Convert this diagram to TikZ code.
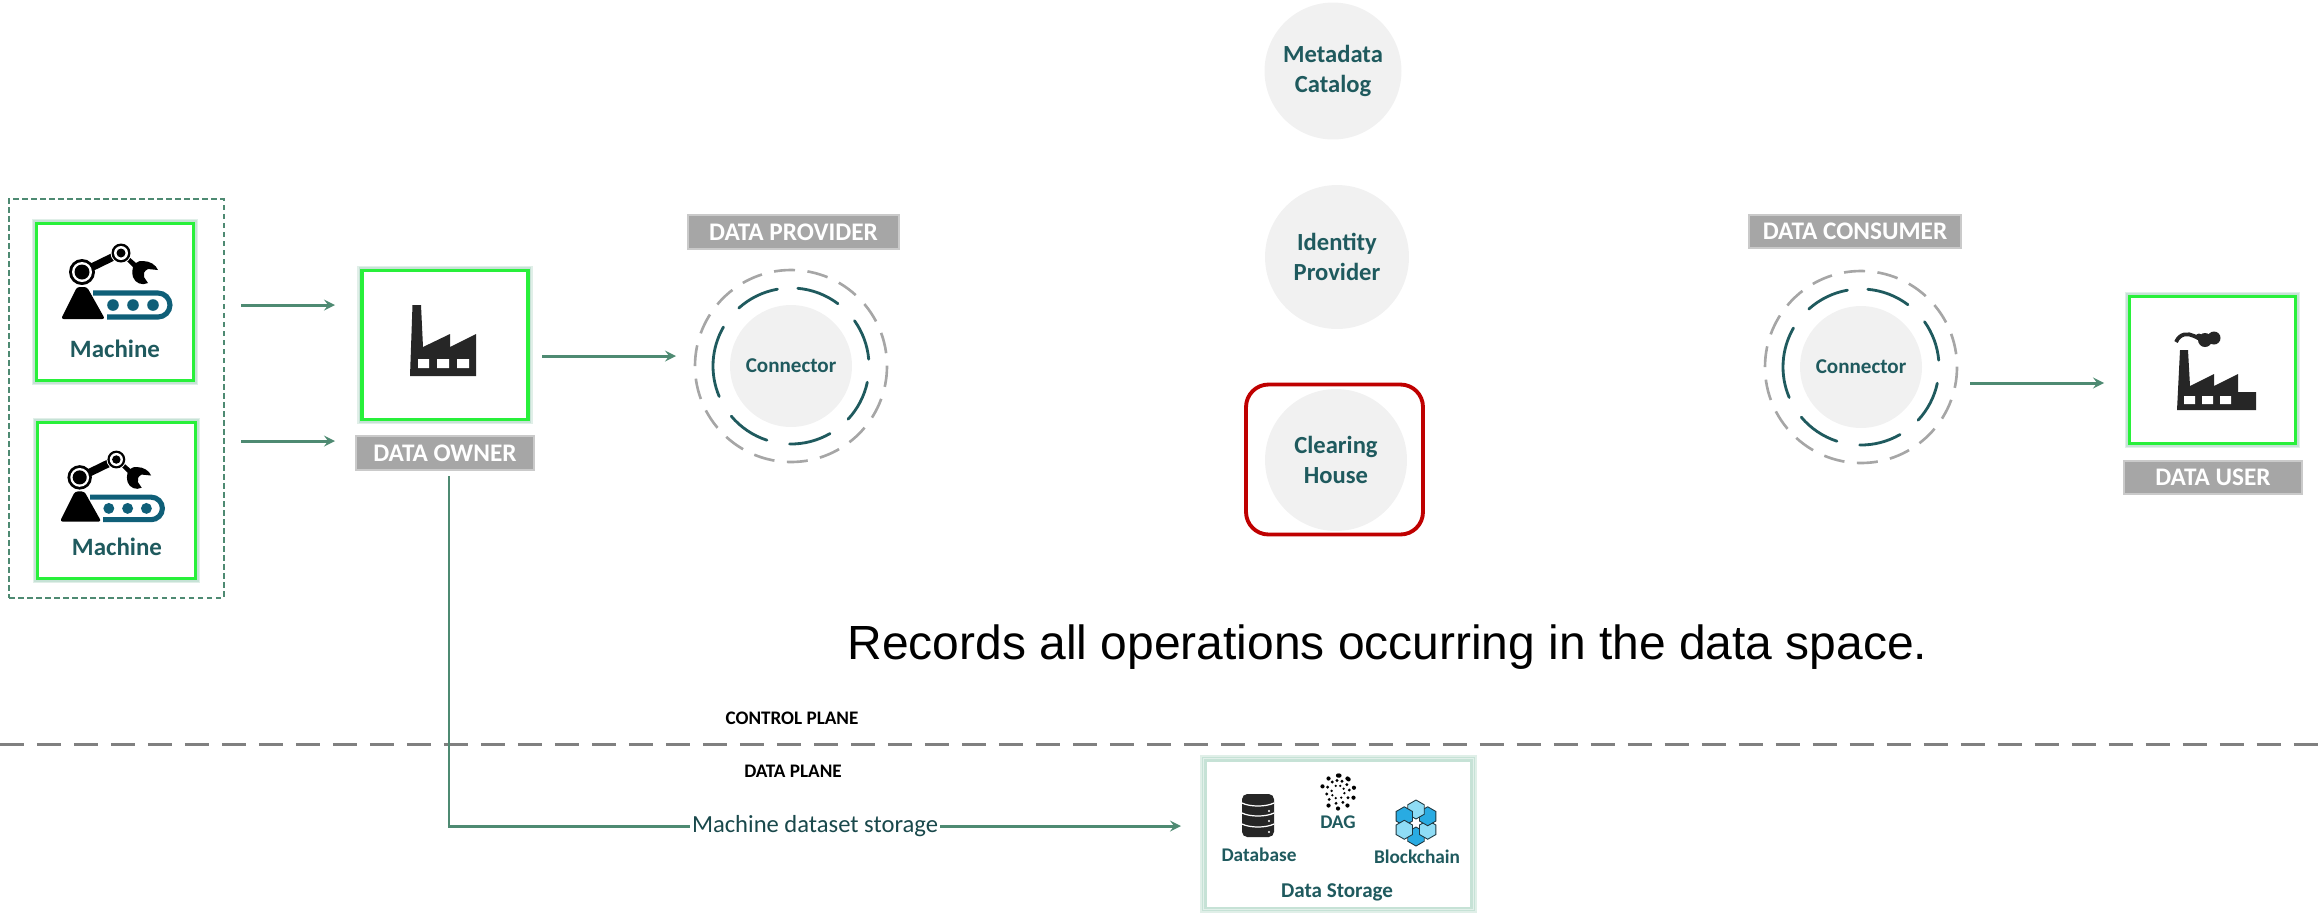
\documentclass[tikz,border=0pt]{standalone}
\usepackage{fontspec}
\setmainfont{Carlito}
\newfontfamily\recordfont{Liberation Sans}
\usetikzlibrary{calc,shapes,positioning}
\usetikzlibrary{arrows}
\definecolor{tealtext}{HTML}{1F5A5E}
\definecolor{flowgreen}{HTML}{4E8A72}
\definecolor{boxgreen}{HTML}{28F03A}
\definecolor{glowgreen}{HTML}{C6E2D6}
\definecolor{tagline}{HTML}{A6A6A6}
\definecolor{softgrey}{HTML}{F1F1F1}
\definecolor{iconblack}{HTML}{262626}
\definecolor{beltblue}{HTML}{0F5F78}
\newcommand{\pxfont}[1]{\fontsize{#1}{17}\selectfont}
\newcommand{\machineicon}[3]{
  \begin{scope}[shift={(#1,#2)},scale=#3]
    \fill[black,rounded corners=1.5pt] (17,42) -- (27,42) -- (45,74) -- (1,74) -- cycle;
    \draw[beltblue,line width=2.9pt] (33,48) -- (98,48) arc (-90:90:12) -- (47,72);
    \fill[beltblue] (53,60) circle (5.8) (73,60) circle (5.8) (93,60) circle (5.8);
    \draw[black,line width=4.4pt] (22,27) -- (61,8);
    \fill[black] (83,16) .. controls (90,16) and (96,20) .. (98,25) -- (88,24) .. controls (84,26) and (83,29) .. (84,32) -- (88,38) .. controls (82,41) and (75,38) .. (73,32) .. controls (72,28) and (72,25) .. (73,22) -- (65,14) -- (68,11) -- (76,18) .. controls (78,16) and (80,16) .. (83,16) -- cycle;
    \fill[black] (22,27) circle (13);
    \fill[white] (22,27) circle (10);
    \fill[black] (22,27) circle (7.5);
    \fill[white] (61,8) circle (10.5);
    \fill[black] (61,8) circle (9.5);
    \fill[white] (61,8) circle (7);
    \fill[black] (61,8) circle (4.5);
  \end{scope}
}
\newcommand{\ownerfactory}[2]{
  \begin{scope}[shift={(#1,#2)}]
    \fill[iconblack] (0,71) -- (2.5,0) -- (11,0) -- (13,42) -- (40,29) -- (40,42) -- (66,29) -- (66,71) -- cycle;
    \fill[white] (8,54) rectangle (19,63) (27,54) rectangle (39,63) (47,54) rectangle (59,63);
  \end{scope}
}
\newcommand{\userfactory}[2]{
  \begin{scope}[shift={(#1,#2)}]
    \fill[iconblack] (0,78) -- (3,18) -- (11,18) -- (13,54) -- (37,42) -- (37,54) -- (61,42) -- (61,60) -- (79,60) -- (79,78) -- cycle;
    \fill[white] (7,64) rectangle (18,72) (25,64) rectangle (36,72) (43,64) rectangle (54,72);
    \draw[iconblack,line width=2.2pt] (-1,10) .. controls (3,1) and (11,1) .. (17,4) .. controls (20,6) and (24,6) .. (28,5);
    \fill[iconblack] (37,6) circle (6.5) (28,8) circle (7) (22,5) circle (3.5);
  \end{scope}
}
\newcommand{\connectorring}[1]{
  \draw[ringgrey] (#1) circle (96);
  \foreach \s/\e in {-85/-53,-35.5/-5,12/43,60/91,108/140,157/210,228/260}{
    \draw[ringteal] ([shift={(\s:78)}]#1) arc (\s:\e:78);
  }
}
\begin{document}
\begin{tikzpicture}[x=0.02cm,y=-0.02cm]
  \useasboundingbox (0,0) rectangle (2323,914);
  \tikzstyle{flow} = [flowgreen, line width=1.7pt, ->, >=stealth]
  \tikzstyle{flowline} = [flowgreen, line width=1.7pt]
  \tikzstyle{greenbox} = [draw=boxgreen, line width=1.9pt, fill=white, inner sep=0pt,
    preaction={draw=glowgreen!55, line width=5.5pt}, preaction={draw=glowgreen, line width=3.6pt}]
  \tikzstyle{graytag} = [fill=tagline, text=white, inner sep=0pt, font=\bfseries\pxfont{14.4},
    preaction={draw=tagline!60, line width=2pt}]
  \tikzstyle{softdisc} = [circle, fill=softgrey, text=tealtext, inner sep=0pt, align=center, font=\bfseries\pxfont{14}]
  \tikzstyle{tealnode} = [text=tealtext, inner sep=0pt, font=\bfseries\pxfont{11}]
  \tikzstyle{planenode} = [inner sep=0pt, font=\bfseries\pxfont{10.9}]
  \tikzstyle{ringgrey} = [tagline, line width=1.5pt, dash pattern=on 0.42cm off 0.25cm]
  \tikzstyle{ringteal} = [tealtext, line width=1.6pt, line cap=round]

  \node[draw=flowgreen, dash pattern=on 0.11cm off 0.07cm, line width=1.3pt, minimum width=4.3cm, minimum height=7.98cm, inner sep=0pt] (machines) at (116.5,398.5) {};
  \node[greenbox, minimum width=3.14cm, minimum height=3.14cm] (machine1) at (115,302) {};
  \node[greenbox, minimum width=3.16cm, minimum height=3.12cm] (machine2) at (116.5,500.5) {};
  \machineicon{60}{245}{1}
  \machineicon{59}{452}{0.94}
  \node[tealnode, font=\bfseries\pxfont{14.2}] (machinetext1) at (115,349) {Machine};
  \node[tealnode, font=\bfseries\pxfont{14.2}] (machinetext2) at (117,547) {Machine};

  \node[greenbox, minimum width=3.32cm, minimum height=2.98cm] (owner) at (445,345) {};
  \ownerfactory{410}{305}
  \node[graytag, minimum width=3.52cm, minimum height=0.64cm] (ownertag) at (445,453) {DATA OWNER};

  \coordinate (m1out) at (241,305);
  \coordinate (m1in) at (335,305);
  \coordinate (m2out) at (241,441);
  \coordinate (m2in) at (335,441);
  \draw[flow] (m1out) -- (m1in);
  \draw[flow] (m2out) -- (m2in);

  \node[graytag, minimum width=4.18cm, minimum height=0.64cm] (providertag) at (793.5,232) {DATA PROVIDER};
  \node[softdisc, minimum size=2.44cm, font=\bfseries\pxfont{12}] (provider) at (791,366) {Connector};
  \connectorring{provider}
  \coordinate (ownerout) at (542,356);
  \coordinate (providerin) at (676,356);
  \draw[flow] (ownerout) -- (providerin);

  \node[softdisc, minimum size=2.74cm] (catalog) at (1333,71) {Metadata\\Catalog};
  \node[softdisc, minimum size=2.88cm] (identity) at (1337,257) {Identity\\Provider};
  \node[softdisc, minimum size=2.84cm] (clearing) at (1336,460) {Clearing\\House};
  \node[draw=red!75!black, line width=2.2pt, rounded corners=0.45cm, minimum width=3.54cm, minimum height=3.0cm, inner sep=0pt] (clearingframe) at (1334.5,459.5) {};

  \node[graytag, minimum width=4.2cm, minimum height=0.62cm] (consumertag) at (1855,231.5) {DATA CONSUMER};
  \node[softdisc, minimum size=2.44cm, font=\bfseries\pxfont{12}] (consumer) at (1861,367) {Connector};
  \connectorring{consumer}
  \node[greenbox, minimum width=3.32cm, minimum height=2.94cm] (user) at (2212.5,370) {};
  \userfactory{2177}{332}
  \node[graytag, minimum width=3.52cm, minimum height=0.62cm] (usertag) at (2213,477.5) {DATA USER};
  \coordinate (consumerout) at (1970,383);
  \coordinate (userin) at (2104,383);
  \draw[flow] (consumerout) -- (userin);

  \node[inner sep=0pt, font=\recordfont\fontsize{27.3}{30}\selectfont] (records) at (1387.5,647) {Records all operations occurring in the data space.};

  \coordinate (planeleft) at (0,744);
  \coordinate (planeright) at (2323,744);
  \draw[black!50, line width=1.7pt, dash pattern=on 0.48cm off 0.26cm] (planeleft) -- (planeright);
  \node[planenode] (controlplane) at (792,718) {CONTROL PLANE};
  \node[planenode] (dataplane) at (793,771) {DATA PLANE};

  \node[greenbox, draw=glowgreen, line width=1.7pt, minimum width=5.34cm, minimum height=2.96cm, preaction={draw=glowgreen!50, line width=2.8pt}] (storage) at (1338.5,834) {};
  \node[tealnode] (databasetext) at (1259,855) {Database};
  \node[tealnode] (dagtext) at (1338,822) {DAG};
  \node[tealnode] (blockchaintext) at (1417,857) {Blockchain};
  \node[tealnode, font=\bfseries\pxfont{12}] (storagetext) at (1337,892) {Data Storage};

  \begin{scope}[shift={(1242,794)}]
    \fill[iconblack, rounded corners=3pt] (0,0) rectangle (32,43);
    \draw[white, line width=0.7pt] (0,9) .. controls (8,13) and (24,13) .. (32,9);
    \draw[white, line width=0.7pt] (0,19) .. controls (8,23) and (24,23) .. (32,19);
    \draw[white, line width=0.7pt] (0,30) .. controls (8,34) and (24,34) .. (32,30);
    \fill[white] (27,17) circle (1.2) (27,27) circle (1.2) (27,38) circle (1.2);
  \end{scope}

  \begin{scope}[shift={(1338,792)}]
    \foreach \a in {-85,-50,-15,20,55,90,125,200,235,270,305} \fill[black] (\a:16.5) circle (2.1);
    \foreach \a in {-120,-95,-70,-40,-10,30,65,100,140,170,205} \fill[black] (\a:11.5) circle (1.6);
    \foreach \a in {-110,-70,-30,10,60,110,150,190} \fill[black] (\a:6.5) circle (1.3);
  \end{scope}

  \begin{scope}[shift={(1416,823)}]
    \foreach \a/\c in {90/29ABE2,30/8FDCF5,-30/29ABE2,-90/8FDCF5,-150/29ABE2,150/8FDCF5}{
      \definecolor{hexfill}{HTML}{\c}
      \begin{scope}[shift={(\a:13.5)}]
        \filldraw[fill=hexfill, draw=iconblack!70!beltblue, line width=0.5pt] (30:9.5) -- (90:9.5) -- (150:9.5) -- (210:9.5) -- (270:9.5) -- (330:9.5) -- cycle;
      \end{scope}
    }
  \end{scope}

  \node[fill=white, text=tealtext!80!black, inner sep=1pt, font=\pxfont{14}] (storagelabel) at (815,826) {Machine dataset storage};
  \coordinate (ownerdrop) at (449,476);
  \coordinate (storagein) at (1181,826);
  \draw[flowline] (ownerdrop) |- (storagelabel.west);
  \draw[flow] (storagelabel.east) -- (storagein);
\end{tikzpicture}
\end{document}
